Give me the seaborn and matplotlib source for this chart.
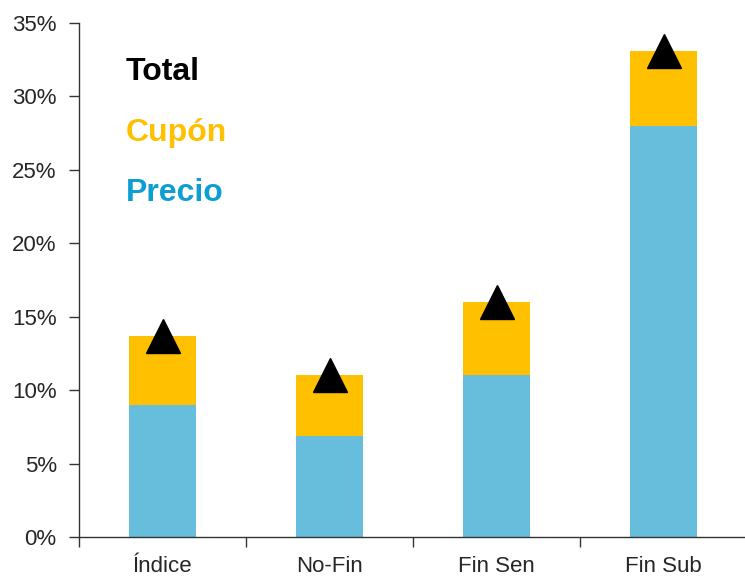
import numpy as np
import pandas as pd
import seaborn as sns
import matplotlib.pyplot as plt
from matplotlib.ticker import FuncFormatter, FixedLocator

categories = ['Índice', 'No-Fin', 'Fin Sen', 'Fin Sub']
precio = [9.0, 6.9, 11.0, 28.0]
cupon = [4.7, 4.1, 5.0, 5.1]
total = [13.7, 11.0, 16.0, 33.1]

df = pd.DataFrame({'cat': categories, 'precio': precio, 'cupon': cupon, 'total': total})
df['stack'] = df['precio'] + df['cupon']

sns.set_style("white")
plt.rcParams['font.family'] = ['Liberation Sans', 'DejaVu Sans']

fig = plt.figure(figsize=(7.45, 5.8), dpi=100)
ax = fig.add_axes([0.106, 0.0741, 0.897, 0.8862])

sns.barplot(data=df, x='cat', y='stack', color='#FFC000', width=0.4, saturation=1,
            linewidth=0, edgecolor='none', ax=ax)
sns.barplot(data=df, x='cat', y='precio', color='#66BDDC', width=0.4, saturation=1,
            linewidth=0, edgecolor='none', ax=ax)
ax.plot(range(len(categories)), df['total'], linestyle='none', marker='^',
        markersize=24, color='black', zorder=5)

ax.set_xlim(-0.5, 3.5)
ax.set_ylim(0, 35)
ax.set_xlabel('')
ax.set_ylabel('')
ax.yaxis.set_major_formatter(FuncFormatter(lambda v, p: f'{v:.0f}%'))
ax.set_yticks(np.arange(0, 36, 5))

ax.xaxis.set_minor_locator(FixedLocator(np.arange(-0.5, 4, 1)))
ax.tick_params(axis='x', which='major', bottom=True, length=0, pad=14, labelsize=16)
ax.tick_params(axis='x', which='minor', bottom=True, length=7, width=1,
               color='#333333', direction='out')
ax.tick_params(axis='y', left=True, length=7, width=1, color='#333333',
               direction='out', pad=9, labelsize=16)

for s in ['top', 'right']:
    ax.spines[s].set_visible(False)
for s in ['left', 'bottom']:
    ax.spines[s].set_color('#333333')
    ax.spines[s].set_linewidth(1)

ax.text(0.07, 0.904, 'Total', transform=ax.transAxes, fontsize=23, fontweight='bold',
        color='black', va='center')
ax.text(0.07, 0.787, 'Cupón', transform=ax.transAxes, fontsize=23, fontweight='bold',
        color='#FFC000', va='center')
ax.text(0.07, 0.670, 'Precio', transform=ax.transAxes, fontsize=23, fontweight='bold',
        color='#0E9FD2', va='center')

fig.savefig('out.png', dpi=100)
